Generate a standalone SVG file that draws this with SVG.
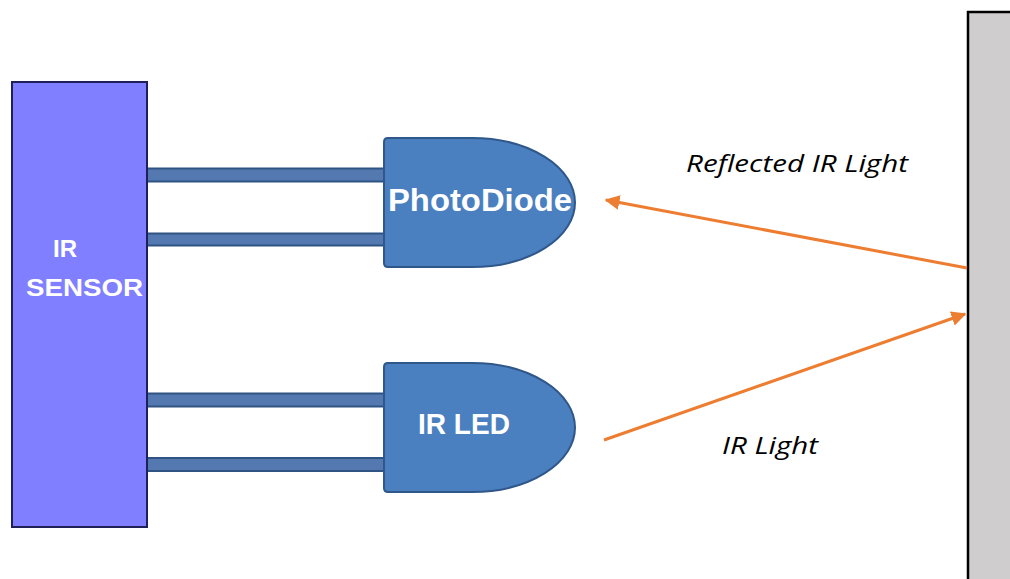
<svg xmlns="http://www.w3.org/2000/svg" width="1010" height="579" viewBox="0 0 1010 579">
<defs>
<style>
.sensor{fill:#7f7fff;stroke:#1f1f5a;stroke-width:2}
.diode{fill:#4a7fc0;stroke:#30578a;stroke-width:2}
.wire{fill:#5479b0;stroke:#2f5483;stroke-width:2}
.wall{fill:#cfcdce;stroke:#000;stroke-width:2.5}
.lbl{font-family:"Liberation Sans",Arial,sans-serif;font-weight:bold;fill:#ffffff}
.cap{font-family:"Open Sans","Liberation Sans",sans-serif;font-style:italic;fill:#000;font-size:24px}
.ray{stroke:#ed7d31;stroke-width:3;fill:none}
</style>
<marker id="ah" viewBox="0 0 10 10" refX="9" refY="5" markerWidth="5" markerHeight="5" markerUnits="strokeWidth" orient="auto">
<path d="M0,0 L10,5 L0,10 Z" fill="#ed7d31"/>
</marker>
</defs>
<rect width="1010" height="579" fill="#ffffff"/>
<g id="wall">
<rect class="wall" x="968" y="12" width="60" height="590"/>
</g>
<g id="connectors">
<rect class="wire" x="147" y="168.5" width="237" height="13"/>
<rect class="wire" x="147" y="233.5" width="237" height="12"/>
<rect class="wire" x="147" y="393.5" width="237" height="13"/>
<rect class="wire" x="147" y="458" width="237" height="13"/>
<line class="ray" x1="967" y1="268" x2="606" y2="200" marker-end="url(#ah)"/>
<line class="ray" x1="604" y1="440" x2="965" y2="314" marker-end="url(#ah)"/>
</g>
<g id="ir-sensor">
<rect class="sensor" x="12" y="82" width="135" height="445"/>
<text class="lbl" x="65" y="257" font-size="24" text-anchor="middle">IR</text>
<text class="lbl" x="26" y="296" font-size="24" textLength="117" lengthAdjust="spacingAndGlyphs">SENSOR</text>
</g>
<g id="photodiode">
<path class="diode" d="M388,138 H472 A103,64.5 0 0 1 472,267 H388 Q384,267 384,263 V142 Q384,138 388,138 Z"/>
<text class="lbl" x="388" y="211" font-size="31" textLength="184" lengthAdjust="spacingAndGlyphs">PhotoDiode</text>
</g>
<g id="ir-led">
<path class="diode" d="M388,363 H472 A103,64.5 0 0 1 472,492 H388 Q384,492 384,488 V367 Q384,363 388,363 Z"/>
<text class="lbl" x="418" y="434" font-size="29" textLength="92" lengthAdjust="spacingAndGlyphs">IR LED</text>
</g>
<text class="cap" x="686" y="172" textLength="222" lengthAdjust="spacingAndGlyphs">Reflected IR Light</text>
<text class="cap" x="722" y="454" textLength="96" lengthAdjust="spacingAndGlyphs">IR Light</text>
</svg>
